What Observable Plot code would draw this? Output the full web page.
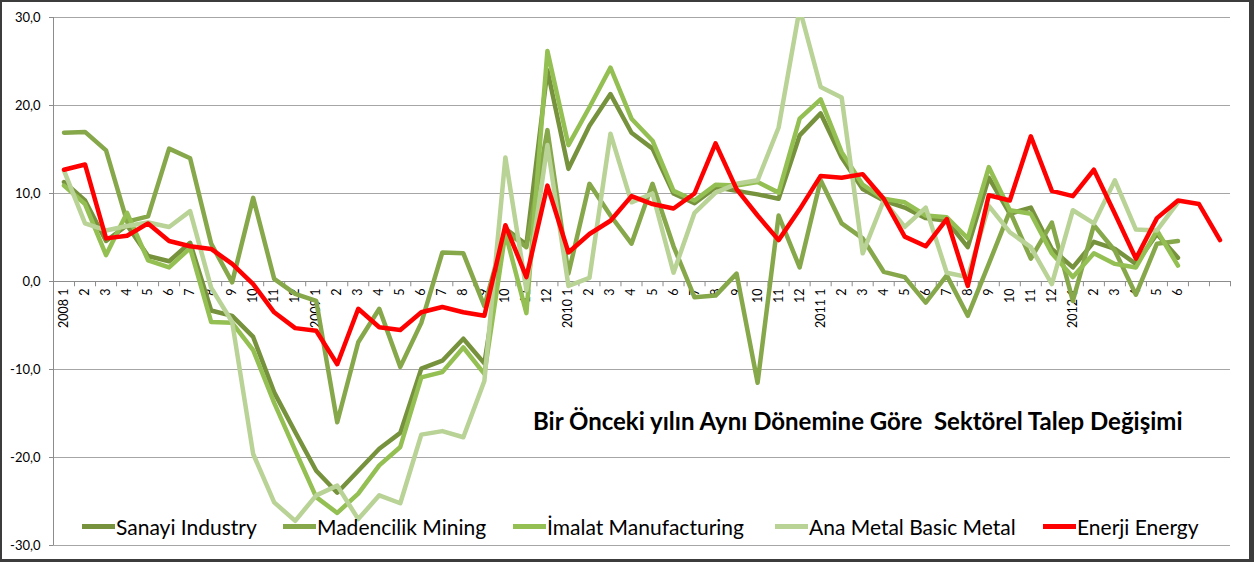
<!DOCTYPE html>
<html><head><meta charset="utf-8">
<script src="https://cdn.jsdelivr.net/npm/d3@7"></script>
<script src="https://cdn.jsdelivr.net/npm/@observablehq/plot@0.6"></script>
<style>
body{margin:0;background:#fff;}
#wrap{position:relative;width:1254px;height:562px;overflow:hidden;font-family:Lato,"Open Sans",sans-serif;background:#fff;}
#chart{position:absolute;left:0;top:0;}
#frame{position:absolute;left:0;top:0;width:1254px;height:562px;border-style:solid;border-color:#3c3c3c;border-width:2px 5px 3px 2px;box-sizing:border-box;pointer-events:none;}
#title{position:absolute;left:533px;top:406px;font-weight:bold;font-size:24px;line-height:30px;color:#000;white-space:pre;}
.lg{position:absolute;top:512px;font-size:21px;color:#000;white-space:nowrap;display:flex;align-items:center;height:28px;}
.sw{display:inline-block;width:33px;height:5px;margin-right:1px;}
</style></head>
<body>
<div id="wrap"><div id="chart"></div><div id="title"></div><div id="legend"></div><div id="frame"></div></div>
<script>
const monthLabels = [
 "2008 1","2","3","4","5","6","7","8","9","10","11","12",
 "2009 1","2","3","4","5","6","7","8","9","10","11","12",
 "2010 1","2","3","4","5","6","7","8","9","10","11","12",
 "2011 1","2","3","4","5","6","7","8","9","10","11","12",
 "2012 1","2","3","4","5","6","",""
];
const seriesNames = ["Sanayi Industry","Madencilik Mining","İmalat Manufacturing","Ana Metal Basic Metal","Enerji Energy"];
const sanayi = [11.3,9.2,4.6,6.4,2.9,2.3,4.4,-3.3,-3.9,-6.3,-12.6,-17.1,
 -21.5,-24.0,-21.5,-19.0,-17.2,-9.9,-9.0,-6.5,-9.3,6.0,4.2,24.0,
 12.8,17.7,21.3,16.9,15.1,10.0,8.9,10.7,10.3,9.9,9.4,16.6,
 19.1,14.1,10.5,9.2,8.4,7.2,6.9,3.9,11.8,7.7,8.4,3.7,
 1.6,4.5,3.7,2.0,5.4,2.7];
const madencilik = [16.9,17.0,14.9,6.8,7.4,15.1,14.0,4.3,-0.1,9.5,0.3,-1.4,
 -2.2,-16.0,-6.9,-3.1,-9.7,-4.7,3.3,3.2,-2.8,5.8,3.9,17.2,
 0.9,11.1,7.5,4.3,11.1,4.0,-1.8,-1.6,0.9,-11.5,7.5,1.6,
 11.5,6.6,4.9,1.1,0.5,-2.4,0.7,-3.9,2.0,8.0,2.6,6.7,
 -2.2,6.4,3.5,-1.5,4.3,4.6];
const imalat = [10.9,8.8,3.0,7.8,2.4,1.6,3.8,-4.6,-4.7,-7.8,-13.8,-19.2,
 -24.5,-26.3,-24.1,-20.9,-18.8,-10.9,-10.3,-7.5,-10.5,5.5,-3.6,26.2,
 15.5,19.8,24.3,18.5,16.0,10.3,9.2,11.0,10.9,11.3,10.1,18.5,
 20.7,14.7,11.0,9.4,9.0,7.5,7.3,4.9,13.0,8.1,7.7,3.2,
 0.5,3.2,2.0,1.6,5.8,1.8];
const anaMetal = [12.6,6.6,5.8,6.3,6.7,6.2,8.0,-0.7,-4.6,-19.6,-25.1,-27.2,
 -24.3,-23.2,-27.0,-24.3,-25.2,-17.4,-17.0,-17.7,-11.3,14.1,-1.0,15.5,
 -0.5,0.4,16.8,9.0,10.0,1.0,7.8,10.1,11.1,11.5,17.5,31.0,
 22.1,20.9,3.2,9.2,6.2,8.4,1.0,0.5,8.6,5.6,3.9,-0.3,
 8.1,6.6,11.5,5.9,5.8,9.0];
const enerji = [12.7,13.3,4.9,5.2,6.6,4.6,4.0,3.7,2.0,-0.3,-3.5,-5.3,
 -5.6,-9.4,-3.1,-5.2,-5.5,-3.5,-2.9,-3.5,-3.9,6.4,0.5,10.9,
 3.3,5.4,6.9,9.7,8.8,8.3,10.0,15.7,10.5,7.5,4.7,8.2,
 12.0,11.8,12.2,9.4,5.1,4.0,7.1,-0.5,9.8,9.2,16.5,10.3,
 9.7,12.7,7.7,2.6,7.2,9.2,8.8,4.7];
const yTicks = [-30,-20,-10,0,10,20,30];
const titleText = "Bir Önceki yılın Aynı Dönemine Göre  Sektörel Talep Değişimi";

const colors = ["#76923C","#86A84A","#94BF52","#B9D296","#FF0000"];
const legendLeft = [82,283,513,775,1043];
const seriesVals = [sanayi, madencilik, imalat, anaMetal, enerji];

const n = monthLabels.length;
const idx = d3.range(n);
const boundaries = d3.range(n + 1).map(i => i - 0.5);
const fmt = d => d.toFixed(1).replace(".", ",");

const lineMarks = seriesVals.map((vals, s) =>
  Plot.line(vals.map((v, i) => ({i, v})), {
    x: "i", y: "v", stroke: colors[s], strokeWidth: 4.5,
    strokeLinejoin: "round", strokeLinecap: "round", clip: true
  })
);

const chart = Plot.plot({
  width: 1254, height: 562,
  marginLeft: 53, marginRight: 24, marginTop: 17, marginBottom: 17,
  style: {fontFamily: "Lato, 'Open Sans', sans-serif", background: "transparent", overflow: "visible"},
  x: {type: "linear", domain: [-0.5, n - 0.5], axis: null},
  y: {domain: [-30, 30], axis: null},
  marks: [
    Plot.ruleY(yTicks.filter(t => t !== 0), {x1: -0.5, x2: n - 0.5, stroke: "#a6a6a6", strokeWidth: 1}),
    Plot.ruleX([-0.5], {y1: -30, y2: 30, stroke: "#8c8c8c", strokeWidth: 1}),
    Plot.axisY({ticks: yTicks, tickFormat: fmt, tickSize: 4, tickPadding: 9, stroke: "#8c8c8c", fill: "#000", fontSize: 13, label: null}),
    Plot.ruleY([0], {x1: -0.5, x2: n - 0.5, stroke: "#8c8c8c", strokeWidth: 1}),
    Plot.ruleX(boundaries, {y1: 0, y2: -0.6, stroke: "#8c8c8c", strokeWidth: 1}),
    Plot.text(idx, {x: d => d, y: 0, text: d => monthLabels[d], rotate: -90, textAnchor: "end", lineAnchor: "middle", dy: 7, fontSize: 12.5, fill: "#000"}),
    ...lineMarks
  ]
});
document.getElementById("chart").appendChild(chart);
document.getElementById("title").textContent = titleText;

const leg = document.getElementById("legend");
seriesNames.forEach((name, s) => {
  const item = document.createElement("div");
  item.className = "lg";
  item.style.left = legendLeft[s] + "px";
  const sw = document.createElement("span");
  sw.className = "sw";
  sw.style.background = colors[s];
  item.appendChild(sw);
  const t = document.createElement("span");
  t.textContent = name;
  item.appendChild(t);
  leg.appendChild(item);
});
</script>
</body></html>
